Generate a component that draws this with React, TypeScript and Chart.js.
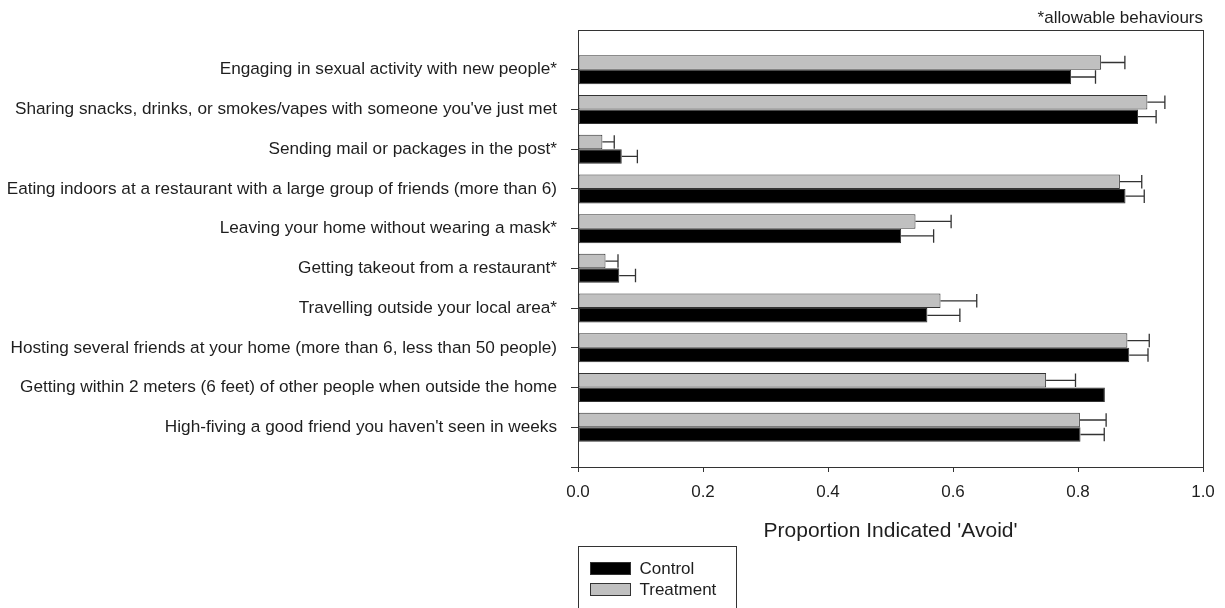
import React, { useEffect, useRef } from 'react';
import { Chart, registerables } from 'chart.js';

Chart.register(...registerables);

const categories = [
  'Engaging in sexual activity with new people*',
  "Sharing snacks, drinks, or smokes/vapes with someone you've just met",
  'Sending mail or packages in the post*',
  'Eating indoors at a restaurant with a large group of friends (more than 6)',
  'Leaving your home without wearing a mask*',
  'Getting takeout from a restaurant*',
  'Travelling outside your local area*',
  'Hosting several friends at your home (more than 6, less than 50 people)',
  'Getting within 2 meters (6 feet) of other people when outside the home',
  "High-fiving a good friend you haven't seen in weeks",
];

const treatmentValues = [0.837, 0.911, 0.039, 0.867, 0.54, 0.044, 0.58, 0.879, 0.749, 0.803];
const treatmentErrors = [0.038, 0.028, 0.019, 0.035, 0.057, 0.02, 0.058, 0.035, 0.047, 0.042];
const controlValues = [0.789, 0.896, 0.07, 0.876, 0.517, 0.066, 0.559, 0.882, 0.843, 0.804];
const controlErrors: (number | null)[] = [0.039, 0.029, 0.025, 0.03, 0.052, 0.026, 0.052, 0.03, null, 0.038];

const xTicks = [0, 0.2, 0.4, 0.6, 0.8, 1.0];
const legendLabels = ['Control', 'Treatment'];
const noteText = '*allowable behaviours';
const xTitle = "Proportion Indicated 'Avoid'";

const FONT = "'Liberation Sans', Arial, Helvetica, sans-serif";
const TEXT = '#1e1e1e';
const LINE = '#333333';
const GRAY = '#c0c0c0';
const BLACK = '#000000';

const errorBarPlugin = {
  id: 'errorBars',
  afterDatasetsDraw(chart: any) {
    const ctx = chart.ctx;
    const xScale = chart.scales.x;
    ctx.save();
    ctx.strokeStyle = LINE;
    ctx.lineWidth = 1.3;
    chart.data.datasets.forEach((ds: any, d: number) => {
      const meta = chart.getDatasetMeta(d);
      meta.data.forEach((bar: any, i: number) => {
        const err = ds.errors[i];
        if (err == null) return;
        const v = ds.data[i].x;
        const { y, height } = bar.getProps(['y', 'height'], true);
        const x0 = xScale.getPixelForValue(v);
        const x1 = xScale.getPixelForValue(v + err);
        const h = Math.abs(height) / 2 - 0.5;
        ctx.beginPath();
        ctx.moveTo(x0, y);
        ctx.lineTo(x1, y);
        ctx.moveTo(x1, y - h);
        ctx.lineTo(x1, y + h);
        ctx.stroke();
      });
    });
    ctx.restore();
  },
};

const framePlugin = {
  id: 'frame',
  afterDraw(chart: any) {
    const { ctx, chartArea } = chart;
    ctx.save();
    ctx.strokeStyle = LINE;
    ctx.lineWidth = 1;
    ctx.strokeRect(
      Math.round(chartArea.left) + 0.5,
      Math.round(chartArea.top) + 0.5,
      Math.round(chartArea.right - chartArea.left),
      Math.round(chartArea.bottom - chartArea.top)
    );
    ctx.restore();
  },
};

const legendBoxPlugin = {
  id: 'legendBox',
  afterDraw(chart: any) {
    const { ctx, chartArea } = chart;
    const left = Math.round(chartArea.left) + 0.5;
    const top = Math.round(chartArea.bottom) + 79.5;
    ctx.save();
    ctx.strokeStyle = LINE;
    ctx.lineWidth = 1;
    ctx.strokeRect(left, top, 158, 90);
    const fills = [BLACK, GRAY];
    legendLabels.forEach((label, i) => {
      const sy = top + 16 + i * 21;
      ctx.fillStyle = fills[i];
      ctx.fillRect(left + 12, sy, 40, 12);
      ctx.strokeRect(left + 12, sy, 40, 12);
      ctx.fillStyle = TEXT;
      ctx.font = `17px ${FONT}`;
      ctx.textBaseline = 'middle';
      ctx.textAlign = 'left';
      ctx.fillText(label, left + 61, sy + 6.5);
    });
    ctx.restore();
  },
};

export default function App() {
  const canvasRef = useRef<HTMLCanvasElement | null>(null);

  useEffect(() => {
    if (!canvasRef.current) return;
    const chart = new Chart(canvasRef.current, {
      type: 'bar',
      data: {
        datasets: [
          {
            label: legendLabels[1],
            data: treatmentValues.map((v, i) => ({ x: v, y: i + 1 })),
            errors: treatmentErrors,
            backgroundColor: GRAY,
            borderColor: LINE,
            borderWidth: 1,
            borderSkipped: false,
          } as any,
          {
            label: legendLabels[0],
            data: controlValues.map((v, i) => ({ x: v, y: i + 1 })),
            errors: controlErrors,
            backgroundColor: BLACK,
            borderColor: LINE,
            borderWidth: 1,
            borderSkipped: false,
          } as any,
        ],
      },
      options: {
        indexAxis: 'y',
        animation: false,
        responsive: true,
        maintainAspectRatio: false,
        categoryPercentage: 0.73,
        barPercentage: 1.0,
        layout: { padding: { left: 0, right: 14, top: 0, bottom: 56 } },
        plugins: {
          legend: { display: false },
          tooltip: { enabled: false },
          title: {
            display: true,
            text: noteText,
            align: 'end',
            color: TEXT,
            font: { family: FONT, size: 17, lineHeight: 1.0, weight: 'normal' },
            padding: { top: 2, bottom: 3 },
          },
        },
        scales: {
          x: {
            type: 'linear',
            min: 0,
            max: 1,
            afterBuildTicks: (s: any) => {
              s.ticks = xTicks.map((v) => ({ value: v }));
            },
            afterFit: (s: any) => {
              s.height = 85;
              s.paddingRight = 0;
              s.paddingLeft = 0;
            },
            ticks: {
              color: TEXT,
              font: { family: FONT, size: 17 },
              padding: 10,
              callback: (v: any) => Number(v).toFixed(1),
              maxRotation: 0,
            },
            grid: { drawOnChartArea: false, tickLength: 5, tickColor: LINE, offset: false },
            border: { color: LINE, width: 1 },
            title: {
              display: true,
              text: xTitle,
              color: TEXT,
              font: { family: FONT, size: 21 },
              padding: { top: 4, bottom: 8 },
            },
          },
          y: {
            type: 'linear',
            min: 0,
            max: 11,
            reverse: true,
            offset: false,
            afterFit: (s: any) => {
              s.width = 570;
              s.paddingTop = 0;
              s.paddingBottom = 0;
            },
            ticks: {
              stepSize: 1,
              autoSkip: false,
              color: TEXT,
              font: { family: FONT, size: 17.2 },
              padding: 14,
              callback: (v: any) => {
                const i = Number(v) - 1;
                return i >= 0 && i < categories.length ? categories[i] : '';
              },
            },
            grid: {
              drawOnChartArea: false,
              tickLength: 7,
              offset: false,
              tickColor: (c: any) => (c.tick && c.tick.value === 0 ? 'rgba(0,0,0,0)' : LINE),
            },
            border: { color: LINE, width: 1 },
          },
        },
      } as any,
      plugins: [errorBarPlugin, framePlugin, legendBoxPlugin],
    });
    return () => chart.destroy();
  }, []);

  return (
    <div style={{ position: 'relative', width: '1209px', height: '600px' }}>
      <canvas ref={canvasRef} />
    </div>
  );
}
